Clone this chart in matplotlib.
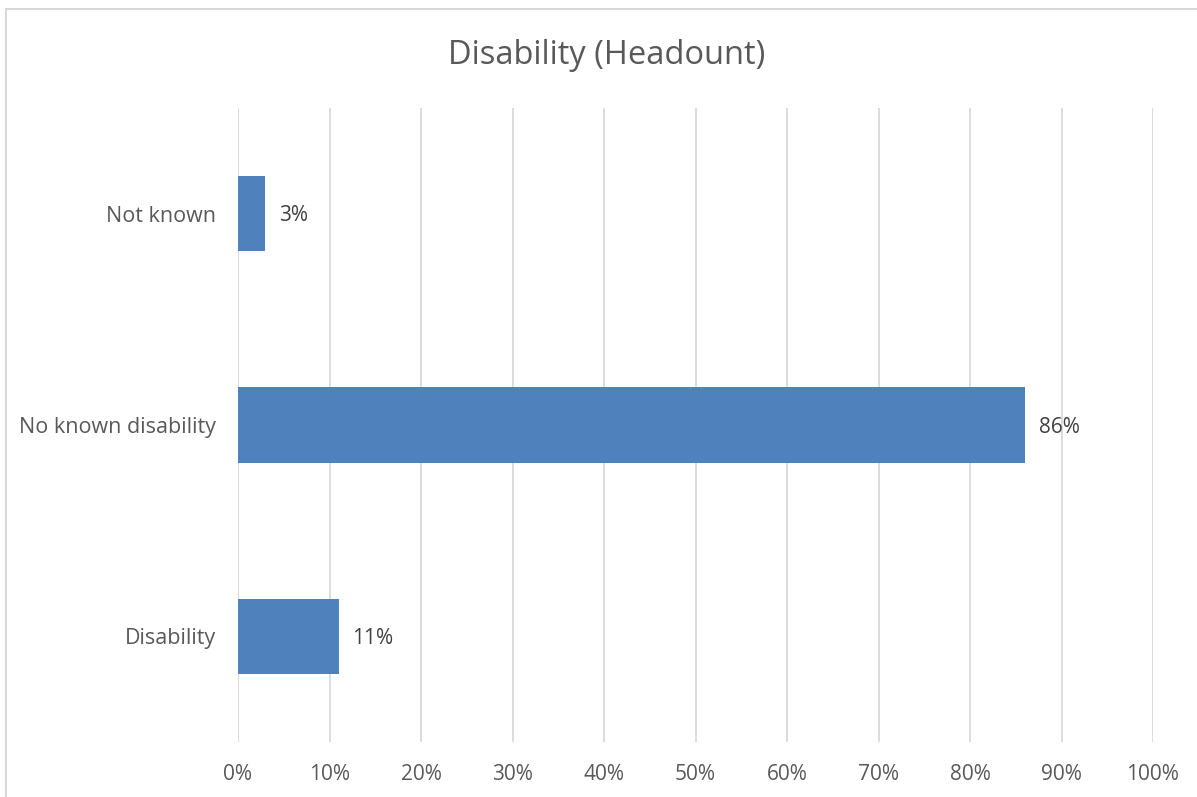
import matplotlib
matplotlib.use("Agg")
import matplotlib.pyplot as plt
from matplotlib.patches import Rectangle

categories = ["Disability", "No known disability", "Not known"]
values = [11, 86, 3]
xticks = [0, 10, 20, 30, 40, 50, 60, 70, 80, 90, 100]
xticklabels = [f"{t}%" for t in xticks]
title = "Disability (Headount)"

plt.rcParams['font.family'] = ['Open Sans', 'DejaVu Sans']
W, H = 1197, 797
fig = plt.figure(figsize=(W/100, H/100), dpi=100)
ax = fig.add_axes([238/W, 1-742/H, (1153-238)/W, (742-108)/H])

txt = "#595959"
ax.barh(range(len(categories)), values, height=0.355, color="#4F81BD", zorder=3)
for i, v in enumerate(values):
    ax.text(v + 1.5, i - 0.01, f"{v}%", va="center", ha="left", fontsize=15, color="#404040")

ax.set_xlim(0, 100)
ax.set_ylim(-0.5, 2.5)
ax.set_xticks(xticks)
ax.set_xticklabels(xticklabels, fontsize=15, color=txt)
ax.set_yticks(range(len(categories)))
ax.set_yticklabels(categories, fontsize=15.5, color=txt)
ax.tick_params(length=0, pad=16, axis='y')
ax.tick_params(length=0, pad=16, axis='x')
ax.grid(axis='x', color="#D9D9D9", linewidth=1.3, zorder=0)
for s in ax.spines.values():
    s.set_visible(False)

fig.text(607/W, 1-55/H, title, ha="center", va="center", fontsize=23.5, color=txt)

fig.patches.append(Rectangle((6/W, -0.05), 1.2, (H-9)/H + 0.05, transform=fig.transFigure,
                             fill=False, edgecolor="#D9D9D9", linewidth=1.5))
fig.savefig("out.png", dpi=100)
